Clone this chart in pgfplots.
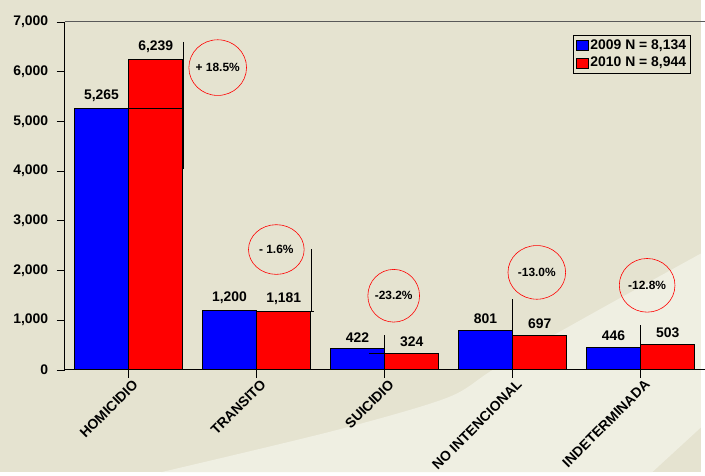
\documentclass[border=0pt]{standalone}
\usepackage{fontspec}
\setmainfont{Liberation Sans}
\usepackage{pgfplots}
\pgfplotsset{compat=1.18}
\definecolor{bgdark}{RGB}{229,227,208}
\definecolor{bglight}{RGB}{239,239,226}
\definecolor{barblue}{RGB}{0,0,255}
\definecolor{barred}{RGB}{255,0,0}
\newcommand{\lblfont}{\bfseries\fontsize{14bp}{16bp}\selectfont}
\newcommand{\circfont}{\bfseries\fontsize{12bp}{14bp}\selectfont}
\pgfplotsset{mylegimg/.style={legend image code/.code={\draw[#1,draw=black,line width=0.6bp] (0bp,-5bp) rectangle (12bp,5bp);}}}
\begin{document}
\begin{tikzpicture}
\begin{scope}[x=1bp,y=1bp]
\useasboundingbox (0,0) rectangle (705,475);
\fill[bgdark] (0,0) rectangle (705,475);
\fill[bglight] plot[smooth] coordinates {(162,0) (337,42) (450,75) (499,105) (600,162) (705,220)} -- (705,45) -- (656,0) -- cycle;
\end{scope}
\begin{axis}[
 at={(65bp,103bp)}, anchor=south west,
 scale only axis, width=643.75bp, height=350bp,
 xmin=-0.5, xmax=4.5, ymin=0, ymax=7000,
 ybar=0pt, bar width=54.5bp,
 axis x line*=bottom, axis y line*=left,
 axis line style={black, line width=0.8bp, -},
 tick align=outside, major tick length=8bp,
 tick style={black, line width=0.6bp},
 xtick={0,1,2,3,4},
 xticklabels={HOMICIDIO,TRANSITO,SUICIDIO,NO INTENCIONAL,INDETERMINADA},
 xticklabel style={rotate=45, anchor=east, font=\lblfont, xshift=5bp, yshift=-8bp},
 ytick={0,1000,...,7000},
 yticklabel style={font=\lblfont, xshift=-5bp},
 scaled y ticks=false,
 /pgf/number format/.cd, 1000 sep={,}, fixed, precision=0, assume math mode=true, /pgfplots/.cd,
 nodes near coords,
 every node near coord/.append style={font=\lblfont, text=black, yshift=3bp},
 legend style={at={(0.9786,0.963)}, anchor=north east, draw=black, line width=0.8bp, fill=none, font=\lblfont, row sep=2.5bp, inner sep=2.5bp},
 legend cell align=left,
 mylegimg,
 clip=false,
]
\addplot[fill=barblue, draw=black, line width=0.8bp] coordinates {(0,5265) (1,1200) (2,422) (3,801) (4,446)};
\addlegendentry{2009 N = 8,134}
\addplot[fill=barred, draw=black, line width=0.8bp] coordinates {(0,6239) (1,1181) (2,324) (3,697) (4,503)};
\addlegendentry{2010 N = 8,944}
% top frame line
\draw[gray!70!black, line width=0.8bp] (rel axis cs:0,1) -- (rel axis cs:1,1);
% connector lines
\draw[black, line width=0.6bp] (axis cs:0.427,6600) -- (axis cs:0.427,4040);
\draw[black, line width=0.6bp] (axis cs:0,5265) -- (axis cs:0.427,5265);
\draw[black, line width=0.6bp] (axis cs:1.427,2430) -- (axis cs:1.427,1181);
\draw[black, line width=0.6bp] (axis cs:1.0,1181) -- (axis cs:1.445,1181);
\draw[black, line width=0.6bp] (axis cs:2,700) -- (axis cs:2,0);
\draw[black, line width=0.6bp] (axis cs:1.877,324) -- (axis cs:2,324);
\draw[black, line width=0.6bp] (axis cs:3,1420) -- (axis cs:3,0);
\draw[black, line width=0.6bp] (axis cs:4,900) -- (axis cs:4,0);
% change circles
\draw[red, line width=0.6bp] (axis cs:0.696,6080) ellipse [x radius=29bp, y radius=28bp];
\node[font=\circfont] at (axis cs:0.696,6080) {+ 18.5\%};
\draw[red, line width=0.6bp] (axis cs:1.154,2420) ellipse [x radius=28bp, y radius=25bp];
\node[font=\circfont] at (axis cs:1.154,2420) {- 1.6\%};
\draw[red, line width=0.6bp] (axis cs:2.071,1490) ellipse [x radius=26bp, y radius=26.5bp];
\node[font=\circfont] at (axis cs:2.071,1490) {-23.2\%};
\draw[red, line width=0.6bp] (axis cs:3.189,1960) ellipse [x radius=29bp, y radius=27bp];
\node[font=\circfont] at (axis cs:3.189,1960) {-13.0\%};
\draw[red, line width=0.6bp] (axis cs:4.051,1700) ellipse [x radius=28bp, y radius=27bp];
\node[font=\circfont] at (axis cs:4.051,1700) {-12.8\%};
\end{axis}
\end{tikzpicture}
\end{document}
